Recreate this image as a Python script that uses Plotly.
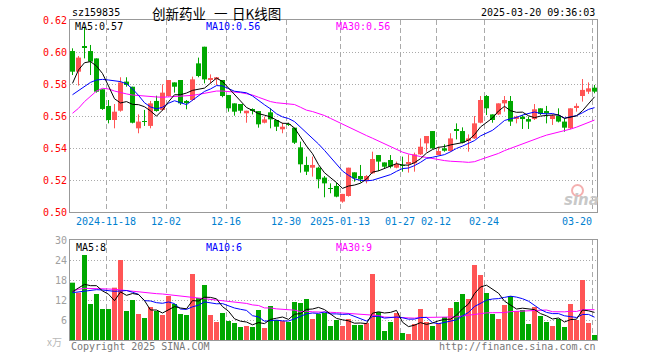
import plotly.graph_objects as go

# ---------------- data ----------------
tick_index = [6, 16, 26, 36, 45, 55, 61, 69, 87]
tick_labels = ["2024-11-18", "12-02", "12-16", "12-30", "2025-01-13",
               "01-27", "02-12", "02-24", "03-20"]

opens = [0.6006,0.5877,0.6033,0.6006,0.5960,0.5767,0.5663,0.5575,0.5633,0.5815,
         0.5783,0.5523,0.5567,0.5538,0.5694,0.5638,0.5725,0.5810,0.5825,0.5694,
         0.5700,0.5929,0.6033,0.5829,0.5829,0.5825,0.5731,0.5679,0.5675,0.5617,
         0.5638,0.5631,0.5558,0.5623,0.5575,0.5517,0.5550,0.5527,0.5404,0.5294,
         0.5277,0.5277,0.5215,0.5150,0.5163,0.5065,0.5100,0.5248,0.5225,0.5196,
         0.5242,0.5356,0.5310,0.5325,0.5277,0.5292,0.5304,0.5304,0.5360,0.5429,
         0.5506,0.5356,0.5398,0.5381,0.5515,0.5506,0.5444,0.5460,0.5558,0.5725,
         0.5610,0.5610,0.5679,0.5694,0.5581,0.5596,0.5581,0.5581,0.5648,0.5631,
         0.5581,0.5602,0.5565,0.5523,0.5654,0.5725,0.5752,0.5777]
closes = [0.5877,0.5965,0.6027,0.5940,0.5752,0.5644,0.5575,0.5627,0.5810,0.5794,
          0.5558,0.5565,0.5563,0.5679,0.5631,0.5746,0.5825,0.5783,0.5679,0.5685,
          0.5829,0.5850,0.5829,0.5833,0.5842,0.5725,0.5648,0.5627,0.5633,0.5633,
          0.5633,0.5548,0.5579,0.5579,0.5533,0.5533,0.5546,0.5433,0.5298,0.5252,
          0.5294,0.5204,0.5179,0.5146,0.5096,0.5113,0.5277,0.5210,0.5204,0.5225,
          0.5331,0.5315,0.5283,0.5283,0.5300,0.5288,0.5310,0.5360,0.5408,0.5475,
          0.5398,0.5381,0.5383,0.5460,0.5511,0.5433,0.5460,0.5554,0.5700,0.5648,
          0.5575,0.5679,0.5700,0.5565,0.5596,0.5581,0.5565,0.5642,0.5613,0.5617,
          0.5602,0.5565,0.5527,0.5648,0.5663,0.5763,0.5773,0.5752]
highs = [0.6023,0.5975,0.6158,0.6044,0.5960,0.5767,0.5700,0.5675,0.5842,0.5842,
         0.5783,0.5610,0.5638,0.5694,0.5727,0.5798,0.5825,0.5810,0.5825,0.5700,
         0.5846,0.5965,0.6033,0.5860,0.5842,0.5825,0.5731,0.5679,0.5675,0.5633,
         0.5648,0.5631,0.5596,0.5648,0.5575,0.5558,0.5558,0.5527,0.5440,0.5346,
         0.5346,0.5283,0.5225,0.5179,0.5183,0.5113,0.5277,0.5248,0.5294,0.5231,
         0.5377,0.5356,0.5310,0.5356,0.5315,0.5346,0.5360,0.5371,0.5460,0.5475,
         0.5506,0.5408,0.5423,0.5492,0.5554,0.5529,0.5485,0.5600,0.5725,0.5731,
         0.5610,0.5679,0.5725,0.5725,0.5602,0.5606,0.5596,0.5675,0.5648,0.5663,
         0.5610,0.5648,0.5585,0.5648,0.5679,0.5831,0.5810,0.5794]
lows = [0.5856,0.5790,0.5960,0.5856,0.5746,0.5638,0.5554,0.5523,0.5627,0.5783,
        0.5554,0.5492,0.5538,0.5523,0.5627,0.5633,0.5721,0.5746,0.5669,0.5642,
        0.5694,0.5842,0.5804,0.5804,0.5794,0.5717,0.5627,0.5602,0.5617,0.5558,
        0.5610,0.5527,0.5554,0.5523,0.5506,0.5492,0.5538,0.5425,0.5246,0.5231,
        0.5221,0.5148,0.5092,0.5117,0.5092,0.5058,0.5096,0.5190,0.5185,0.5179,
        0.5238,0.5256,0.5273,0.5273,0.5273,0.5252,0.5246,0.5252,0.5356,0.5377,
        0.5394,0.5356,0.5377,0.5377,0.5454,0.5429,0.5377,0.5456,0.5554,0.5606,
        0.5558,0.5606,0.5627,0.5538,0.5554,0.5519,0.5519,0.5575,0.5606,0.5554,
        0.5544,0.5560,0.5502,0.5517,0.5627,0.5690,0.5738,0.5742]
volumes = [17.2,14.2,25.5,10.8,13.8,9.3,9.3,15.7,24.0,8.7,
           12.0,7.8,6.6,9.9,8.7,7.5,13.2,10.8,7.8,7.5,
           19.8,12.6,16.5,7.5,5.4,8.1,5.7,5.1,3.9,4.2,
           3.9,9.0,3.6,10.2,6.0,5.7,5.4,11.4,11.1,12.3,
           6.3,7.8,8.1,4.2,6.0,4.2,6.3,4.5,4.5,5.1,
           19.8,8.4,2.7,5.4,8.1,2.1,1.8,4.8,9.3,5.4,
           4.2,5.1,6.9,9.6,11.4,13.8,12.3,22.5,19.5,14.1,
           7.8,6.3,10.5,13.2,8.7,9.0,4.8,9.9,7.2,5.4,
           4.2,6.3,3.9,10.8,6.0,18.0,5.1,1.5]

# moving-average values before enough history is visible
ma5_early = [0.5804, 0.5888, 0.5933, 0.5940]
ma10_early = [0.5733, 0.5758, 0.5785, 0.5810, 0.5825, 0.5829, 0.5825, 0.5819, 0.5815]
ma30_early = [0.5617, 0.5648, 0.5690, 0.5725, 0.5756, 0.5773, 0.5769, 0.5756, 0.5746,
              0.5738, 0.5731, 0.5727, 0.5725, 0.5721, 0.5719, 0.5717, 0.5719, 0.5721,
              0.5723, 0.5725, 0.5729, 0.5735, 0.5742, 0.5750, 0.5756, 0.5756, 0.5754,
              0.5752, 0.5746]
vma5_early = [14.5, 15.7, 16.7, 16.3]
vma10_early = [14.2, 14.4, 14.7, 15.0, 15.1, 15.0, 14.8, 14.6, 14.7]
vma30_early = [14.6, 15.2, 15.5, 15.5, 15.5, 15.4, 15.3, 15.2, 15.0, 14.8, 14.5, 14.3,
               14.1, 14.0, 13.9, 13.8, 13.6, 13.4, 13.2, 13.0, 12.9, 12.7, 12.5, 12.4,
               12.2, 12.0, 11.7, 11.5, 11.2]

title_code = "sz159835"
title_name_parts = ["创新药业", "一", "日K线图"]
title_time = "2025-03-20 09:36:03"
price_ma_text = ["MA5:0.57", "MA10:0.56", "MA30:0.56"]
vol_ma_text = ["MA5:8", "MA10:6", "MA30:9"]
price_ticks = [0.50, 0.52, 0.54, 0.56, 0.58, 0.60, 0.62]
vol_ticks = [6, 12, 18, 24, 30]


def moving_avg(vals, n, early):
    out = list(early)
    for i in range(n - 1, len(vals)):
        out.append(sum(vals[i - n + 1:i + 1]) / n)
    return out


# ---------------- styles ----------------
W, H = 660, 360
RED = "#ff5555"
GREEN = "#00a800"
MONO = "DejaVu Sans Mono"
FRAME = "#999999"
GRID = "#aaaaaa"
X0, X1 = 70, 597
P_TOP, P_BOT = 20, 212
V_TOP, V_BOT = 240, 340
half = 5 / 12

n = len(closes)
xs = list(range(n))
up = [c >= o for o, c in zip(opens, closes)]
cols = [RED if u else GREEN for u in up]

fig = go.Figure()

# wicks
for flag, col in [(True, RED), (False, GREEN)]:
    wx, wy = [], []
    for i in xs:
        if up[i] == flag:
            wx += [i, i, None]
            wy += [lows[i], highs[i], None]
    fig.add_trace(go.Scatter(x=wx, y=wy, mode="lines", line=dict(color=col, width=1),
                             xaxis="x", yaxis="y", hoverinfo="skip"))

# bodies
fig.add_trace(go.Bar(x=xs, y=[abs(c - o) for o, c in zip(opens, closes)],
                     base=[min(o, c) for o, c in zip(opens, closes)],
                     width=5 / 6, marker=dict(color=cols, line=dict(width=0)),
                     xaxis="x", yaxis="y", hoverinfo="skip"))

# price MAs
for vals, col in [(moving_avg(closes, 30, ma30_early), "#ff00ff"),
                  (moving_avg(closes, 10, ma10_early), "#0000ff"),
                  (moving_avg(closes, 5, ma5_early), "#000000")]:
    fig.add_trace(go.Scatter(x=xs, y=vals, mode="lines", line=dict(color=col, width=1),
                             xaxis="x", yaxis="y", hoverinfo="skip"))

# volume bars
fig.add_trace(go.Bar(x=xs, y=volumes, width=5 / 6,
                     marker=dict(color=cols, line=dict(width=0)),
                     xaxis="x2", yaxis="y2", hoverinfo="skip"))
for vals, col in [(moving_avg(volumes, 30, vma30_early), "#ff00ff"),
                  (moving_avg(volumes, 10, vma10_early), "#0000ff"),
                  (moving_avg(volumes, 5, vma5_early), "#000000")]:
    fig.add_trace(go.Scatter(x=xs, y=vals, mode="lines", line=dict(color=col, width=1),
                             xaxis="x2", yaxis="y2", hoverinfo="skip"))

tickvals_x = [i - half for i in tick_index]
ticktext_x = list(tick_labels)
ticktext_x[-1] = ticktext_x[-1] + "\u00a0" * 5

xcommon = dict(domain=[X0 / W, X1 / W], range=[-half, n - 1 + half],
               tickvals=tickvals_x, showgrid=True, gridcolor=GRID, griddash="5px,3px",
               gridwidth=1, showline=True, mirror=True, linecolor=FRAME, linewidth=1,
               zeroline=False, ticks="", fixedrange=True, automargin=False)

fig.update_layout(
    width=W, height=H, margin=dict(l=0, r=0, t=0, b=0, pad=0), autosize=False,
    paper_bgcolor="white", plot_bgcolor="white", showlegend=False,
    barmode="overlay", hovermode=False,
    xaxis=dict(**xcommon, anchor="y", ticktext=ticktext_x,
               tickfont=dict(family=MONO, size=10, color="#0080d0")),
    xaxis2=dict(**xcommon, anchor="y2", showticklabels=False),
    yaxis=dict(domain=[1 - P_BOT / H, 1 - P_TOP / H], range=[0.50, 0.62],
               tickvals=price_ticks, ticktext=["%.2f" % v for v in price_ticks],
               tickfont=dict(family=MONO, size=10, color="#ff0000"),
               showgrid=True, gridcolor=GRID, griddash="1px,2px", gridwidth=1,
               showline=True, mirror=True, linecolor=FRAME, linewidth=1,
               zeroline=False, ticks="", anchor="x", fixedrange=True, automargin=False),
    yaxis2=dict(domain=[1 - V_BOT / H, 1 - V_TOP / H], range=[0, 30],
                tickvals=vol_ticks, ticktext=[str(v) for v in vol_ticks],
                tickfont=dict(family=MONO, size=10, color="#a0a0a0"),
                showgrid=True, gridcolor=GRID, griddash="1px,2px", gridwidth=1,
                showline=True, mirror=True, linecolor=FRAME, linewidth=1,
                zeroline=False, ticks="", anchor="x2", fixedrange=True, automargin=False),
)


def ann(text, x, y, color="#000000", size=10, family=MONO, xanchor="left", **kw):
    fig.add_annotation(text=text, x=x / W, y=1 - y / H, xref="paper", yref="paper",
                       xanchor=xanchor, yanchor="middle", showarrow=False,
                       font=dict(family=family, size=size, color=color), **kw)


ann(title_code, 70, 13)
for txt, x in zip(title_name_parts, [150, 212, 230]):
    ann(txt, x, 13, size=13.5, family="Noto Sans CJK SC")
ann(title_time, 597, 13, xanchor="right")

for txt, x, col in zip(price_ma_text, [73, 204, 334], ["#000000", "#0000ff", "#ff00ff"]):
    ann(txt, x, 26.5, color=col)
for txt, x, col in zip(vol_ma_text, [74, 204, 334], ["#000000", "#0000ff", "#ff00ff"]):
    ann(txt, x, 247, color=col)

ann("x万", 64, 341, color="#b8b8b8", size=10, family="Noto Sans CJK SC", xanchor="right")
ann("Copyright 2025 SINA.COM", 69, 346, color="#777777")
ann("http://finance.sina.com.cn", 598, 346, color="#777777", xanchor="right")

# sina watermark
fig.add_shape(type="circle", xref="paper", yref="paper",
              x0=572 / W, x1=583 / W, y0=1 - 196 / H, y1=1 - 185 / H,
              line=dict(color="#f4b0b0", width=2), fillcolor="rgba(0,0,0,0)")
ann("<b><i>sina</i></b>", 581, 200, color="#c8c8c8", size=15,
    family="DejaVu Sans", xanchor="center")

fig.write_html("out.html", config={"displayModeBar": False},
               post_script="document.body.style.margin='0';"
                           "document.body.style.overflow='hidden';")
